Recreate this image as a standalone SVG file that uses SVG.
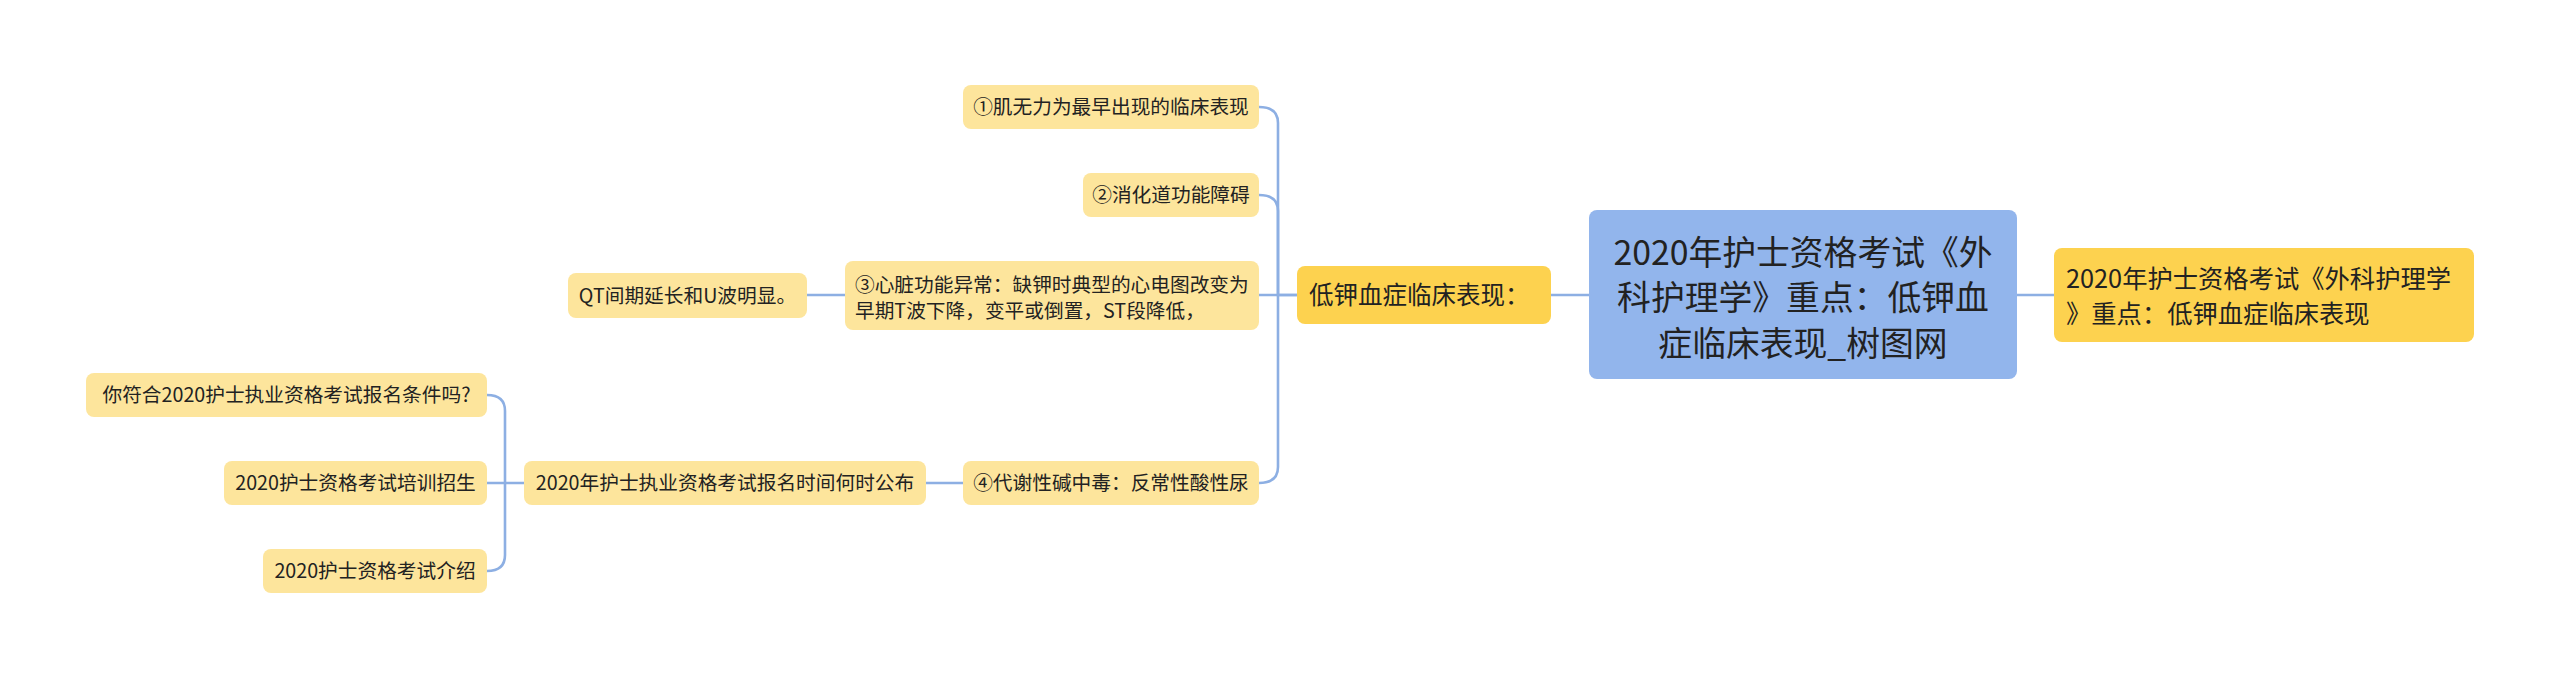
<svg xmlns="http://www.w3.org/2000/svg" width="2560" height="678" viewBox="0 0 2560 678">
<style>
.lt{fill:#FDE59C}
.dk{fill:#FDD24F}
.bl{fill:#92B5EC}
text{font-family:"Noto Sans CJK SC","Microsoft YaHei",sans-serif;fill:#222}
.s{font-size:19.7px}
.m{font-size:24.5px}
.r{font-size:25.3px}
.l{font-size:33.8px}
.c{text-anchor:middle}
.conn path{fill:none;stroke:#8DAFE3;stroke-width:2.6}
</style>
<rect width="2560" height="678" fill="#fff"/>
<g class="conn" id="connectors">
<path d="M2017 295 H2054"/>
<path d="M1551 295 H1589"/>
<path d="M1297 295 H1259"/>
<path d="M1297 295 H1278 V123 Q1278 107 1259 107"/>
<path d="M1278 295 V211 Q1278 195 1259 195"/>
<path d="M1278 295 V467 Q1278 483 1259 483"/>
<path d="M845 295 H807"/>
<path d="M963 483 H926"/>
<path d="M524 483 H487"/>
<path d="M505 483 V411 Q505 395 487 395"/>
<path d="M505 483 V555 Q505 571 487 571"/>
</g>
<g id="root">
<rect class="bl" x="1589" y="210" width="428" height="169" rx="8"/>
<text class="l c" x="1803" y="264.5">2020年护士资格考试《外</text>
<text class="l c" x="1803" y="310">科护理学》重点：低钾血</text>
<text class="l c" x="1803" y="355.5">症临床表现_树图网</text>
</g>
<g id="right">
<rect class="dk" x="2054" y="248" width="420" height="94" rx="8"/>
<text class="r" x="2066" y="287.5">2020年护士资格考试《外科护理学</text>
<text class="r" x="2066" y="322.5">》重点：低钾血症临床表现</text>
</g>
<g id="main">
<rect class="dk" x="1297" y="266" width="254" height="58" rx="8"/>
<text class="m" x="1309" y="303.5">低钾血症临床表现：</text>
</g>
<g id="n1">
<rect class="lt" x="963" y="85" width="296" height="44" rx="8"/>
<text class="s c" x="1111" y="114">①肌无力为最早出现的临床表现</text>
</g>
<g id="n2">
<rect class="lt" x="1083" y="173" width="176" height="44" rx="8"/>
<text class="s c" x="1171" y="202">②消化道功能障碍</text>
</g>
<g id="n3">
<rect class="lt" x="845" y="261" width="414" height="69" rx="8"/>
<text class="s" x="855" y="292">③心脏功能异常：缺钾时典型的心电图改变为</text>
<text class="s" x="855" y="318">早期T波下降，变平或倒置，ST段降低，</text>
</g>
<g id="n3a">
<rect class="lt" x="568" y="273" width="239" height="45" rx="8"/>
<text class="s c" x="687.5" y="302.5">QT间期延长和U波明显。</text>
</g>
<g id="n4">
<rect class="lt" x="963" y="461" width="296" height="44" rx="8"/>
<text class="s c" x="1111" y="490">④代谢性碱中毒：反常性酸性尿</text>
</g>
<g id="n4a">
<rect class="lt" x="524" y="461" width="402" height="44" rx="8"/>
<text class="s c" x="725" y="490">2020年护士执业资格考试报名时间何时公布</text>
</g>
<g id="n4a1">
<rect class="lt" x="86" y="373" width="401" height="44" rx="8"/>
<text class="s c" x="286.5" y="402">你符合2020护士执业资格考试报名条件吗?</text>
</g>
<g id="n4a2">
<rect class="lt" x="224" y="461" width="263" height="44" rx="8"/>
<text class="s c" x="355.5" y="490">2020护士资格考试培训招生</text>
</g>
<g id="n4a3">
<rect class="lt" x="263" y="549" width="224" height="44" rx="8"/>
<text class="s c" x="375" y="578">2020护士资格考试介绍</text>
</g>
</svg>
